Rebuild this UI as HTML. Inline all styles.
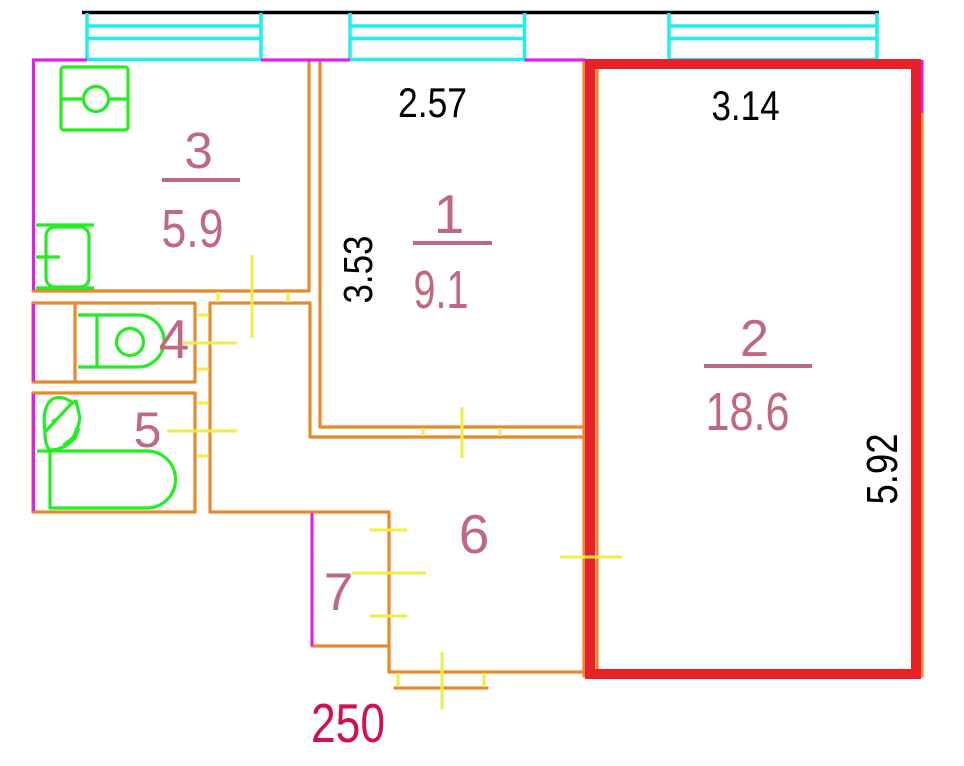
<!DOCTYPE html>
<html>
<head>
<meta charset="utf-8">
<style>
  html,body{margin:0;padding:0;background:#fff;}
  svg{display:block;}
  text{font-family:"Liberation Sans",Arial,sans-serif;}
  .p{fill:#c0687f;}
  .k{fill:#000;}
</style>
</head>
<body>
<svg width="964" height="766" viewBox="0 0 964 766" xmlns="http://www.w3.org/2000/svg">
  <rect width="964" height="766" fill="#fff"/>

  <!-- black top line -->
  <line x1="82" y1="12.5" x2="879" y2="12.5" stroke="#000" stroke-width="3.5"/>

  <!-- windows (cyan) -->
  <g stroke="#22eeee" stroke-width="3.5" fill="none">
    <line x1="87" y1="13" x2="87" y2="60"/><line x1="261" y1="13" x2="261" y2="60"/>
    <line x1="87" y1="26" x2="261" y2="26"/><line x1="87" y1="38.5" x2="261" y2="38.5"/><line x1="87" y1="59.5" x2="261" y2="59.5"/>
    <line x1="350" y1="13" x2="350" y2="60"/><line x1="524.5" y1="13" x2="524.5" y2="60"/>
    <line x1="350" y1="26" x2="524.5" y2="26"/><line x1="350" y1="38.5" x2="524.5" y2="38.5"/><line x1="350" y1="59.5" x2="524.5" y2="59.5"/>
    <line x1="669" y1="13" x2="669" y2="60"/><line x1="877" y1="13" x2="877" y2="60"/>
    <line x1="669" y1="26" x2="877" y2="26"/><line x1="669" y1="38.5" x2="877" y2="38.5"/><line x1="669" y1="59.5" x2="877" y2="59.5"/>
  </g>

  <!-- orange walls -->
  <g stroke="#e8892c" stroke-width="3.2" fill="none" stroke-linejoin="round" stroke-linecap="round">
    <!-- room 3 -->
    <polyline points="309,60 309,291 33,291"/>
    <!-- room 1 -->
    <polyline points="320,60 320,427 583,427"/>
    <!-- toilet -->
    <rect x="33" y="303" width="162" height="79"/>
    <line x1="75" y1="303" x2="75" y2="382"/>
    <!-- bath -->
    <rect x="33" y="393" width="162" height="119"/>
    <!-- corridor -->
    <polyline points="389,512 210,512 210,303 310,303 310,437 583,437"/>
    <!-- room 7 / entrance -->
    <polyline points="312,646 389,646"/>
    <polyline points="389,512 389,672 583,672"/>
    <line x1="395" y1="688" x2="487" y2="688"/>
    <!-- along room 2 -->
    <line x1="584" y1="60" x2="584" y2="676"/>
    <line x1="597" y1="69" x2="597" y2="670"/>
    <line x1="922" y1="113" x2="922" y2="676"/>
  </g>

  <!-- magenta outer walls -->
  <g stroke="#e020e8" stroke-width="3.2" fill="none">
    <line x1="32" y1="60" x2="87" y2="60"/>
    <line x1="261" y1="60" x2="350" y2="60"/>
    <line x1="524.5" y1="60" x2="585" y2="60"/>
    <line x1="33.5" y1="60" x2="33.5" y2="290"/>
    <line x1="33.5" y1="304" x2="33.5" y2="381"/>
    <line x1="33.5" y1="394" x2="33.5" y2="511"/>
    <line x1="312" y1="513" x2="312" y2="646"/>
    <line x1="922" y1="60" x2="922" y2="113"/>
  </g>

  <!-- red room 2 -->
  <rect x="590" y="64" width="326" height="610" fill="none" stroke="#e8202a" stroke-width="10"/>

  <!-- yellow door marks -->
  <g stroke="#eeee44" stroke-width="3" fill="none">
    <line x1="252" y1="255" x2="252" y2="338"/>
    <line x1="218" y1="292" x2="218" y2="302"/>
    <line x1="288" y1="292" x2="288" y2="302"/>

    <line x1="183" y1="343" x2="237" y2="343"/>
    <line x1="197" y1="315" x2="209" y2="315"/>
    <line x1="197" y1="369" x2="209" y2="369"/>

    <line x1="167" y1="431" x2="237" y2="431"/>
    <line x1="197" y1="403" x2="209" y2="403"/>
    <line x1="197" y1="456" x2="209" y2="456"/>

    <line x1="462" y1="407" x2="462" y2="458"/>
    <line x1="423" y1="428" x2="423" y2="436"/>
    <line x1="500" y1="428" x2="500" y2="436"/>

    <line x1="370" y1="530" x2="407" y2="530"/>
    <line x1="352" y1="573" x2="426" y2="573"/>
    <line x1="370" y1="616" x2="407" y2="616"/>

    <line x1="442" y1="652" x2="442" y2="709"/>
    <line x1="398" y1="673" x2="398" y2="687"/>
    <line x1="484" y1="673" x2="484" y2="687"/>

    <line x1="560" y1="557" x2="622" y2="557"/>
  </g>

  <!-- green fixtures -->
  <g stroke="#22ee22" stroke-width="3.2" fill="none" stroke-linejoin="round">
    <!-- stove -->
    <rect x="61" y="67" width="67" height="63" rx="3"/>
    <circle cx="96" cy="99" r="12.5"/>
    <line x1="61" y1="99" x2="83.5" y2="99"/>
    <line x1="108.5" y1="99" x2="128" y2="99"/>
    <!-- sink room 3 -->
    <rect x="46" y="227" width="43" height="60" rx="9"/>
    <line x1="36" y1="225" x2="94" y2="225"/>
    <line x1="36" y1="288" x2="94" y2="288"/>
    <line x1="36" y1="257" x2="60" y2="257"/>
    <!-- toilet -->
    <path d="M78,315 L138,315 A26,26 0 0 1 138,367 L78,367"/>
    <line x1="97" y1="315" x2="97" y2="367"/>
    <circle cx="130" cy="342" r="13.5"/>
    <!-- bath -->
    <path d="M37,451 L147,451 A28.5,28.5 0 0 1 147,508 L50,508 L50,451"/>
    <!-- bath sink -->
    <path d="M45,432 C43,418 44,402 55,398 C62,396 68,399 74,404 M72,403 L76,401 L80,418 C78,428 76,435 71,441 C66,447 58,450 50,450 C46,447 45,440 45,432 Z"/>
    <path d="M64,446 L74,438 L78,428" stroke-width="5"/>
  </g>
  <rect x="52" y="419" width="4" height="4" fill="#22ee22" transform="rotate(45 54 421)"/>

  <!-- black dimension labels -->
  <text class="k" x="432.5" y="117" font-size="42" text-anchor="middle" textLength="69" lengthAdjust="spacingAndGlyphs">2.57</text>
  <text class="k" x="745.5" y="120" font-size="42" text-anchor="middle" textLength="68" lengthAdjust="spacingAndGlyphs">3.14</text>
  <text class="k" font-size="41" text-anchor="middle" textLength="68" lengthAdjust="spacingAndGlyphs" transform="translate(372,269.5) rotate(-90)">3.53</text>
  <text class="k" font-size="44" text-anchor="middle" textLength="71" lengthAdjust="spacingAndGlyphs" transform="translate(897,469) rotate(-90)">5.92</text>

  <!-- pink room labels -->
  <text class="p" x="198.5" y="168" font-size="51" text-anchor="middle">3</text>
  <line x1="162" y1="180" x2="240" y2="180" stroke="#c0687f" stroke-width="4"/>
  <text class="p" x="192.5" y="247" font-size="54" text-anchor="middle" textLength="62" lengthAdjust="spacingAndGlyphs">5.9</text>

  <text class="p" x="449" y="233" font-size="55" text-anchor="middle">1</text>
  <line x1="413" y1="243" x2="492" y2="243" stroke="#c0687f" stroke-width="4"/>
  <text class="p" x="441" y="308" font-size="54" text-anchor="middle" textLength="55" lengthAdjust="spacingAndGlyphs">9.1</text>

  <text class="p" x="754.5" y="356" font-size="52" text-anchor="middle">2</text>
  <line x1="704" y1="366" x2="812" y2="366" stroke="#c0687f" stroke-width="4"/>
  <text class="p" x="747.5" y="430" font-size="54" text-anchor="middle" textLength="84" lengthAdjust="spacingAndGlyphs">18.6</text>

  <text class="p" x="174" y="358" font-size="55" text-anchor="middle">4</text>
  <text class="p" x="147.5" y="447" font-size="50" text-anchor="middle">5</text>
  <text class="p" x="474" y="553" font-size="55" text-anchor="middle">6</text>
  <text class="p" x="338.5" y="610" font-size="53" text-anchor="middle">7</text>

  <text x="348" y="742" font-size="55" text-anchor="middle" textLength="74" lengthAdjust="spacingAndGlyphs" fill="#d01050">250</text>
</svg>
</body>
</html>
